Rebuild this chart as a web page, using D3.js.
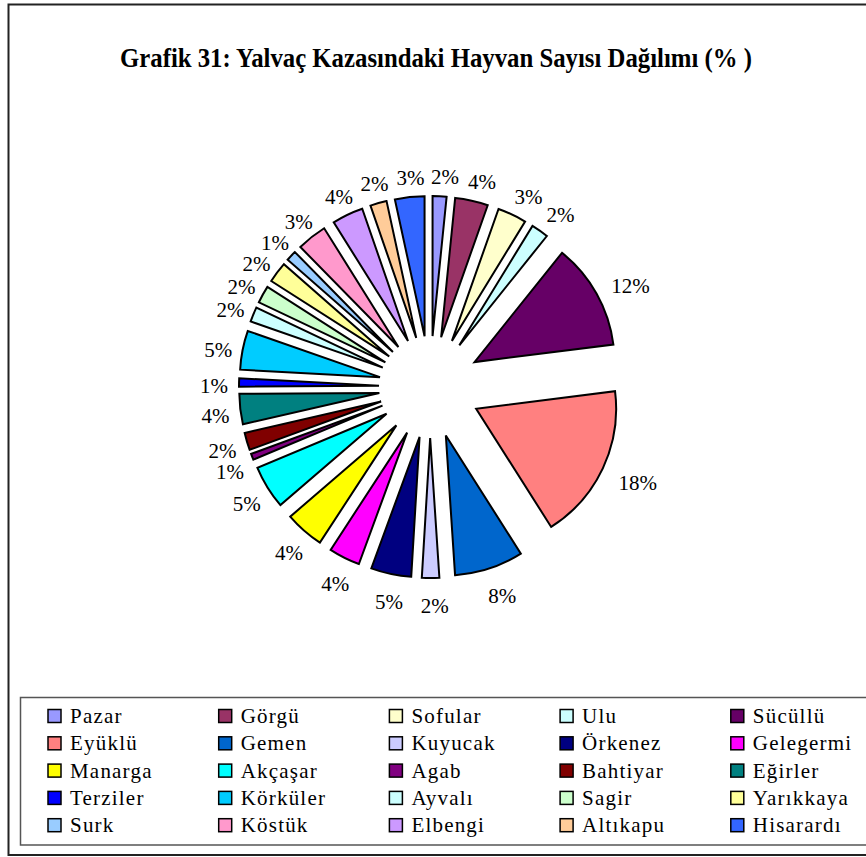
<!DOCTYPE html>
<html>
<head>
<meta charset="utf-8">
<script src="https://cdn.jsdelivr.net/npm/d3@7"></script>
<style>
  html, body { margin: 0; padding: 0; background: #fff; }
  svg { display: block; }
</style>
</head>
<body>
<svg id="chart" width="866" height="857"></svg>
<script>
// ---- data ----
const titleText = "Grafik 31: Yalvaç Kazasındaki Hayvan Sayısı Dağılımı (% )";
const categories = ["Pazar","Görgü","Sofular","Ulu","Sücüllü","Eyüklü","Gemen","Kuyucak","Örkenez","Gelegermi",
  "Manarga","Akçaşar","Agab","Bahtiyar","Eğirler","Terziler","Körküler","Ayvalı","Sagir","Yarıkkaya",
  "Surk","Köstük","Elbengi","Altıkapu","Hisarardı"];
// estimated share of each slice (%)
const values = [1.6,3.8,3.35,2.0,12.25,18.0,7.95,2.0,4.65,3.6,
  4.5,5.0,0.7,2.0,3.5,0.95,4.5,1.7,2.0,2.4,
  1.2,3.45,3.6,1.9,3.4];
// percentages as printed on the chart
const shownPercents = [2,4,3,2,12,18,8,2,5,4,
  4,5,1,2,4,1,5,2,2,2,
  1,3,4,2,3];
const colors = ["#9999FF","#993366","#FFFFCC","#CCFFFF","#660066","#FF8080","#0066CC","#CCCCFF","#000080","#FF00FF",
  "#FFFF00","#00FFFF","#800080","#800000","#008080","#0000FF","#00CCFF","#CCFFFF","#CCFFCC","#FFFF99",
  "#99CCFF","#FF99CC","#CC99FF","#FFCC99","#3366FF"];

// ---- layout ----
const svg = d3.select("#chart");
const cx = 430, cy = 387, R = 140, explode = 51, labelGap = 203;
const lcx = cx + 4, lcy = cy + 4;
const serif = "'Liberation Serif','Times New Roman',serif";

// outer frame
svg.append("rect").attr("x", 8.5).attr("y", 4.5).attr("width", 900).attr("height", 850.5)
  .attr("fill", "#fff").attr("stroke", "#222").attr("stroke-width", 2);

// title
svg.append("text").attr("x", 436).attr("y", 67)
  .attr("text-anchor", "middle")
  .attr("font-family", serif).attr("font-weight", "bold").attr("font-size", 27)
  .attr("textLength", 632).attr("lengthAdjust", "spacingAndGlyphs")
  .text(titleText);

// pie
const data = categories.map((c, i) => ({name: c, value: values[i], pct: shownPercents[i], color: colors[i]}));
const pie = d3.pie().value(d => d.value).sort(null);
const arcs = pie(data);
const arcGen = d3.arc().innerRadius(0).outerRadius(R);

const g = svg.append("g").attr("transform", `translate(${cx},${cy})`);
g.selectAll("path.slice").data(arcs).join("path")
  .attr("class", "slice")
  .attr("transform", d => {
    const a = (d.startAngle + d.endAngle) / 2;
    return `translate(${explode * Math.sin(a)},${-explode * Math.cos(a)})`;
  })
  .attr("d", arcGen)
  .attr("fill", d => d.data.color)
  .attr("stroke", "#000").attr("stroke-width", 2).attr("stroke-linejoin", "miter");

// labels with simple overlap relaxation
const lg = svg.append("g");
const labels = arcs.map(d => {
  const a = (d.startAngle + d.endAngle) / 2;
  return {d, natural: a, angle: a, text: d.data.pct + "%"};
});
labels.forEach(l => {
  const t = lg.append("text").attr("font-family", serif).attr("font-size", 21).text(l.text);
  l.w = t.node().getComputedTextLength();
  l.h = 20;
  l.node = t;
});
function pos(l) {
  const s = Math.sin(l.angle), c = Math.cos(l.angle);
  return [lcx + labelGap * s + s * (l.w / 2 + 3), lcy - labelGap * c - c * 12];
}
for (let it = 0; it < 5000; it++) {
  let moved = false;
  for (let i = 0; i < labels.length; i++) {
    for (let j = i + 1; j < labels.length; j++) {
      const a = labels[i], b = labels[j];
      const [ax, ay] = pos(a), [bx, by] = pos(b);
      const ox = (a.w + b.w) / 2 + 2 - Math.abs(ax - bx);
      const oy = (a.h + b.h) / 2 + 1 - Math.abs(ay - by);
      if (ox > 0 && oy > 0) {
        const diff = b.angle - a.angle;
        const sign = (diff > Math.PI) ? -1 : 1;
        a.angle -= 0.002 * sign; b.angle += 0.002 * sign; moved = true;
      }
    }
  }
  if (!moved) break;
}
labels.forEach(l => {
  const [x, y] = pos(l);
  l.node.attr("x", x).attr("y", y).attr("text-anchor", "middle").attr("dy", "0.35em");
  const disp = Math.abs(l.angle - l.natural) * labelGap;
  if (disp > 8) {
    const a = l.natural;
    const sx = cx + (R + explode + 1) * Math.sin(a), sy = cy - (R + explode + 1) * Math.cos(a);
    const bx = Math.max(x - l.w / 2 - 2, Math.min(sx, x + l.w / 2 + 2));
    const by = Math.max(y - 8, Math.min(sy, y + 8));
    lg.append("path")
      .attr("d", `M${sx},${sy}L${sx},${by}L${bx},${by}`)
      .attr("fill", "none").attr("stroke", "#000").attr("stroke-width", 1);
  }
});

// legend
svg.append("rect").attr("x", 20.5).attr("y", 697.5).attr("width", 900).attr("height", 147.5)
  .attr("fill", "#fff").attr("stroke", "#555").attr("stroke-width", 1.5);
const leg = svg.append("g");
const nCols = 5, colW = 170.7, rowH = 27.3, lx0 = 48, ly0 = 716;
data.forEach((d, i) => {
  const col = i % nCols, row = Math.floor(i / nCols);
  const x = lx0 + col * colW, y = ly0 + row * rowH;
  leg.append("rect").attr("x", x).attr("y", y - 6.5).attr("width", 13).attr("height", 13)
    .attr("fill", d.color).attr("stroke", "#000").attr("stroke-width", 1.5);
  leg.append("text").attr("x", x + 22).attr("y", y + 7)
    .attr("font-family", serif).attr("font-size", 21).attr("letter-spacing", 1.2)
    .text(d.name);
});
</script>
</body>
</html>
